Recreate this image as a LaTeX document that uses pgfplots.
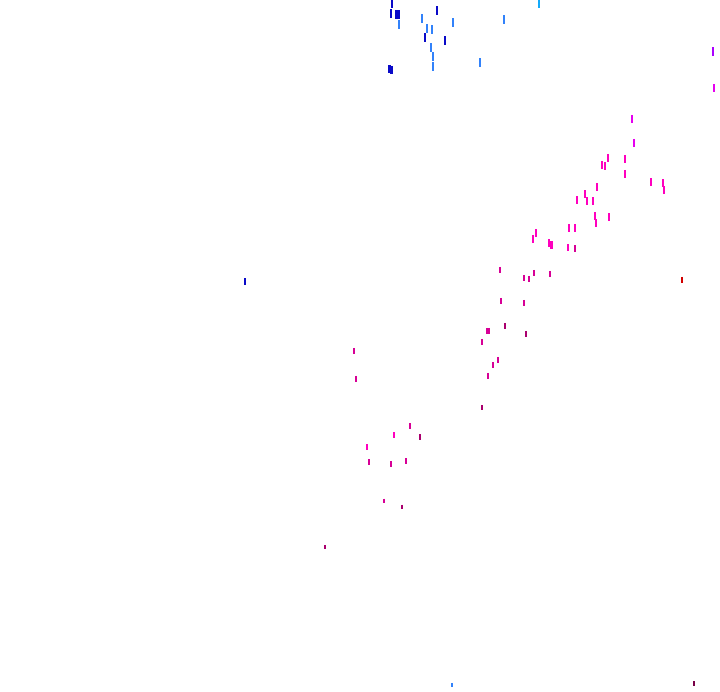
\documentclass[border=0pt]{standalone}
\usepackage{pgfplots}
\pgfplotsset{compat=1.18}
\usepackage{pgfplotstable}
\definecolor{db}{RGB}{10,10,200}
\definecolor{mb}{RGB}{50,130,250}
\definecolor{cy}{RGB}{20,170,250}
\definecolor{pu}{RGB}{170,0,255}
\definecolor{mg}{RGB}{230,0,240}
\definecolor{hp}{RGB}{255,0,190}
\definecolor{dp}{RGB}{215,0,150}
\definecolor{dk}{RGB}{170,0,110}
\definecolor{rd}{RGB}{210,0,0}
\definecolor{mr}{RGB}{120,0,70}
\pgfplotstableread{
x y c s
392 688 db 4.5
391 678 db 4.5
396.5 677 db 4.5
398.5 677 db 4.5
399 667 mb 4.5
422 673 mb 4.5
437 681 db 4.5
427 663 mb 4.5
432 662 mb 4.5
453 669 mb 4.5
504 672 mb 4.5
539 688 cy 4.5
425 654 db 4.5
445 651 db 4.5
431 644 mb 4.5
433 635 mb 4.5
433 625 mb 4.5
480 629 mb 4.5
389.5 623 db 4.0
391.5 622 db 4.0
245 410 db 3.5
452 7 mb 2.0
713 640 pu 4.5
714 604 mg 4.0
632 573 mg 4.0
634 549 mg 4.0
608 534 hp 4.0
602 527 hp 4.0
605 526 hp 4.0
625 533 hp 4.0
625 518 hp 4.0
651 510 hp 3.7
663 509 hp 3.7
664 502 hp 3.7
597 505 hp 3.7
585 498 hp 3.7
577 492 hp 3.7
587 491 hp 3.7
593 491 hp 3.7
595 476 hp 3.7
596 469 hp 3.7
609 475 hp 3.7
569 464 hp 3.7
575 464 hp 3.7
533 453 hp 3.7
536 459 hp 3.7
549 449 hp 3.7
551.5 447 hp 3.7
568 444 hp 3.5
575 443 dp 3.5
500 422 dp 3.2
524 414 dp 3.2
529 413 dp 3.2
534 419 dp 3.2
550 418 dp 3.2
501 391 dp 3.2
524 389 dp 3.2
505 366 dk 3.2
487 361 dp 3.2
489 361 dp 3.2
526 358 dk 3.2
482 350 dp 3.2
498 332 dp 3.0
493 327 dp 3.0
488 316 dp 3.0
482 284 dk 2.5
354 341 dp 3.0
356 313 dp 3.0
410 266 dp 2.8
394 257 hp 2.8
420 255 dk 2.8
367 245 hp 2.8
369 230 dp 2.6
391 228 dp 2.6
406 231 dp 2.6
384 191 dp 2.3
402 185 dk 2.4
325 145 dk 2.2
682 412 rd 3.2
694 8 mr 2.5
}\pts
\begin{document}
\begin{tikzpicture}
\useasboundingbox (0,0) rectangle (720bp,692bp);
\begin{axis}[
  at={(0,0)}, anchor=south west,
  scale only axis, width=720bp, height=692bp,
  xmin=0, xmax=720, ymin=0, ymax=692,
  hide axis, clip=false,
]
\addplot[only marks, mark=|, line width=2.9bp,
  scatter, scatter src=explicit symbolic,
  scatter/classes={
    db={mark=|,draw=db,fill=db},
    mb={mark=|,draw=mb,fill=mb},
    cy={mark=|,draw=cy,fill=cy},
    pu={mark=|,draw=pu,fill=pu},
    mg={mark=|,draw=mg,fill=mg},
    hp={mark=|,draw=hp,fill=hp},
    dp={mark=|,draw=dp,fill=dp},
    dk={mark=|,draw=dk,fill=dk},
    rd={mark=|,draw=rd,fill=rd},
    mr={mark=|,draw=mr,fill=mr}},
  visualization depends on={\thisrow{s} \as \ms},
  scatter/@pre marker code/.append style={/tikz/mark size=\ms bp},
] table[x=x, y=y, meta=c] {\pts};
\end{axis}
\end{tikzpicture}
\end{document}
